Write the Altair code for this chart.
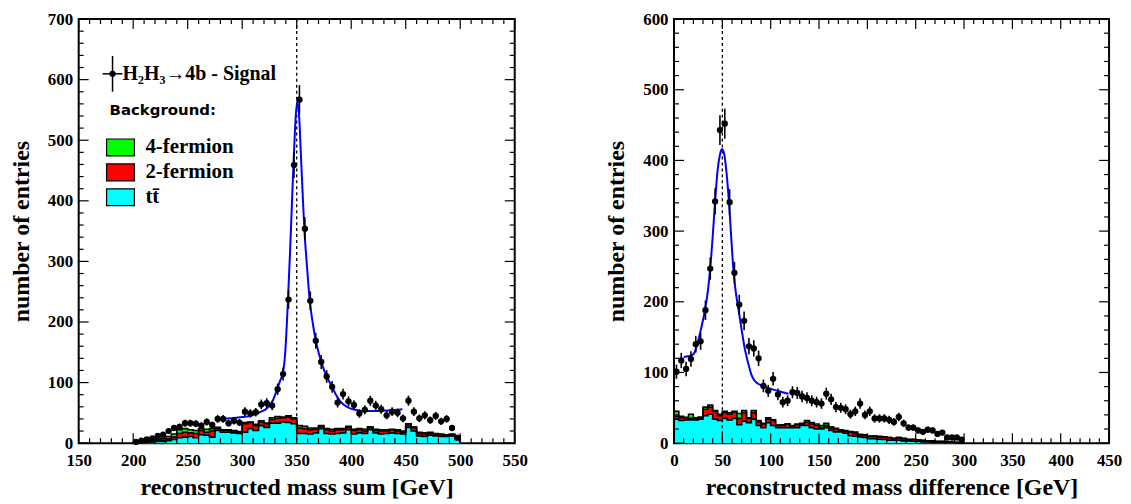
import math
import altair as alt
import pandas as pd

SERIF = "Liberation Serif"
BIN = 5.0
COMP = ["4-fermion", "2-fermion", "tt\u0304"]
COLORS = ["#00ff00", "#ff0000", "#00ffff"]

# ---------------- left panel: reconstructed mass sum ----------------
sum_bin_lo = list(range(200, 500, 5))
sum_centers = [b + 2.5 for b in sum_bin_lo]
sum_signal = [
    2, 4, 6, 8, 12, 14, 20, 25, 27, 33,
    33, 32, 29, 35, 30, 40, 40, 33, 37, 34,
    52, 49, 51, 64, 66, 62, 89, 114, 237, 459,
    567, 354, 235, 169, 134, 110, 93, 67, 81, 69,
    63, 49, 55, 70, 62, 56, 46, 52, 50, 41,
    70, 52, 41, 46, 38, 45, 36, 40, 25, 9]
sum_tt = [
    0.5, 1, 1.5, 2, 3, 3, 4, 6, 9, 10,
    11, 9, 14, 13, 10, 21, 18, 18, 17, 16,
    18, 24, 21, 29, 26, 33, 33, 35, 34, 32,
    16, 16, 15, 17, 24, 16, 15, 16, 17, 22,
    15, 17, 16, 22, 17, 15, 16, 17, 16, 15,
    26, 20, 12, 11, 13, 12, 11, 11, 12, 6]
sum_2f = [
    0, 0.5, 0.5, 1, 1, 2, 3, 4, 7, 8,
    6, 7, 7, 5, 10, 3, 3, 3, 3, 2,
    14, 10, 8, 6, 6, 6, 8, 7, 9, 8,
    9, 8, 7, 6, 3, 6, 5, 6, 5, 4,
    6, 5, 4, 3, 4, 5, 4, 5, 4, 3,
    4, 5, 4, 4, 3, 3, 3, 2, 2, 3]
sum_4f = [
    0.5, 0.5, 1, 1, 2, 3, 4, 5, 6, 6,
    5, 5, 3, 5, 4, 2, 1, 1, 1, 1,
    2, 1, 2, 2, 1, 3, 3, 1, 2, 2,
    4, 4, 3, 2, 2, 2, 3, 2, 2, 2,
    2, 2, 3, 2, 2, 2, 2, 1, 2, 2,
    2, 2, 2, 2, 2, 1, 1, 1, 1, 3]
sum_fit_x = [281, 290, 300, 308, 316, 323, 328, 332, 335, 337.5, 339.5, 342, 344,
             345.5, 347, 348.5, 350.3, 352, 354, 355.5, 357, 359.5, 362, 365, 367.5,
             370, 372.5, 377.5, 382.5, 386, 390, 395, 399, 404, 408.5, 415, 425, 435, 447]
sum_fit_y = [40, 41, 43, 45, 51, 58, 70, 89, 104, 117, 150, 237, 320,
             390, 459, 520, 563, 545, 470, 410, 354, 290, 235, 195, 169,
             150, 134, 110, 93, 80, 69, 61, 57.5, 55, 53, 53, 53, 54, 56]

# ---------------- right panel: reconstructed mass difference ----------------
diff_bin_lo = list(range(0, 300, 5))
diff_centers = [b + 2.5 for b in diff_bin_lo]
diff_signal = [
    101, 117, 105, 119, 140, 144, 188, 247, 342, 443,
    452, 341, 241, 196, 173, 137, 134, 120, 81, 74,
    91, 69, 58, 60, 72, 71, 66, 64, 60, 58,
    56, 70, 62, 51, 50, 48, 41, 45, 56, 40,
    45, 35, 35, 35, 33, 30, 37, 28, 22, 22,
    18, 16, 19, 18, 13, 15, 8, 8, 8, 5]
diff_tt = [
    34, 32, 33, 33, 33, 34, 39, 41, 34, 32,
    35, 33, 35, 26, 31, 29, 34, 25, 22, 29,
    25, 22, 22, 22, 22, 22, 25, 25, 22, 20,
    20, 22, 18, 16, 16, 14, 10.5, 9.7, 8.7, 8,
    6.4, 6.4, 5.5, 5.1, 4.1, 4.1, 4.1, 3.2, 3.2, 2.8,
    2.3, 1.8, 1.8, 1.4, 1.4, 1.4, 0.9, 0.9, 0.5, 0.3]
diff_2f = [
    4, 4, 3, 2, 2, 2, 9, 10, 11, 7,
    8, 8, 9, 9, 12, 6, 9, 5, 5, 5,
    7, 3, 3, 5, 1, 4, 2, 4.5, 5, 5,
    2, 3, 3, 4, 2, 2.5, 5, 3.6, 2.3, 3,
    3.3, 3.3, 3.2, 3.6, 3.7, 2.3, 3.7, 3.2, 1.9, 2.3,
    1.8, 1.9, 1, 1.4, 0.9, 0.9, 0.9, 0.5, 0.4, 0.2]
diff_4f = [
    7, 2, 0.5, 6, 1, 1, 3, 3, 1, 2,
    2, 2, 1, 7, 3, 1, 3, 2, 1, 2,
    1, 0.5, 1, 0.5, 2, 1, 1, 2.5, 2, 2,
    3, 3, 2, 1, 1, 1.5, 1, 2.3, 1.4, 1,
    0.5, 0.5, 1, 0.3, 0.3, 0.3, 0.3, 0.3, 0.4, 0.4,
    0.5, 0.3, 0.4, 0.4, 0.3, 0.3, 0.5, 0.3, 0.2, 0.1]
diff_fit_x = [10, 15, 18, 21, 25, 28, 32, 35, 37.5, 40, 42.5, 45, 47.5, 49.5, 52,
              54.5, 57, 59, 61.3, 63.5, 66, 70, 73.3, 76.7, 80, 83, 87, 92, 97,
              105, 112, 118.5]
diff_fit_y = [122, 123, 124, 128, 145, 162, 188, 215, 248, 292, 342, 385, 408, 416, 408,
              380, 338, 295, 248, 218, 195, 160, 133, 113, 97, 89, 84, 81, 78,
              75, 72, 70]

signal_label = "H\u2082H\u2083\u21924b - Signal"


def hist_frames(lo, tt, f2, f4):
    n = len(lo)
    edges = list(lo) + [lo[-1] + BIN]
    b1 = list(tt)
    b2 = [a + b for a, b in zip(tt, f2)]
    b3 = [a + c for a, c in zip(b2, f4)]
    rows = []
    for name, bot, top in ((COMP[2], [0] * n, b1), (COMP[1], b1, b2), (COMP[0], b2, b3)):
        for i in range(n + 1):
            j = min(i, n - 1)
            rows.append({"x": edges[i], "y0": bot[j], "y1": top[j], "comp": name})
    lrows = []
    for k, top in enumerate((b1, b2, b3)):
        seq = [(edges[0], 0)] + [(edges[i], top[min(i, n - 1)]) for i in range(n + 1)] + [(edges[n], 0)]
        for idx, (x, y) in enumerate(seq):
            lrows.append({"x": x, "y": y, "k": k, "i": idx})
    return pd.DataFrame(rows), pd.DataFrame(lrows)


def signal_frame(centers, vals):
    return pd.DataFrame({
        "x": centers, "val": vals,
        "lo": [v - math.sqrt(v) for v in vals],
        "hi": [v + math.sqrt(v) for v in vals],
        "xl": [c - 2.5 for c in centers],
        "xr": [c + 2.5 for c in centers],
    })


def panel(lo, tt, f2, f4, centers, vals, fx, fy, peak, xdom, ydom, xtitle,
          xmaj, xmin, ymaj, ymin, W, H, with_legend):
    xs = alt.Scale(domain=xdom, nice=False, zero=False)
    ys = alt.Scale(domain=ydom, nice=False)
    area_df, line_df = hist_frames(lo, tt, f2, f4)
    sig = signal_frame(centers, vals)
    fit = pd.DataFrame({"x": fx, "y": fy})

    xaxis = alt.Axis(title=xtitle, values=xmaj, format="d", ticks=False, domain=False, grid=False,
                     labelFont=SERIF, labelFontSize=17, labelFontWeight="bold", labelColor="black",
                     labelPadding=9, labelFlush=False, labelOverlap=False,
                     titleFont=SERIF, titleFontSize=24, titleFontWeight="bold", titleColor="black",
                     titlePadding=8)
    yaxis = alt.Axis(title="number of entries", values=ymaj, format="d", ticks=False, domain=False,
                     grid=False, labelFont=SERIF, labelFontSize=17, labelFontWeight="bold",
                     labelColor="black", labelPadding=6, labelOverlap=False,
                     titleFont=SERIF, titleFontSize=24, titleFontWeight="bold", titleColor="black",
                     titlePadding=14)

    def X(f):
        return alt.X(f, scale=xs, axis=xaxis)

    def Y(f, **kw):
        return alt.Y(f, scale=ys, axis=yaxis, **kw)

    if with_legend:
        legend = alt.Legend(
            title="Background:", orient="none", legendX=31, legendY=84,
            titleFont="DejaVu Sans", titleFontSize=15, titleFontWeight="bold", titleColor="black",
            titlePadding=19, labelFont=SERIF, labelFontSize=21, labelFontWeight="bold",
            labelColor="black", labelOffset=14,
            symbolType="M-1.4,-0.85H1.4V0.85H-1.4Z", symbolSize=400,
            symbolStrokeColor="black", symbolStrokeWidth=1.2, symbolOpacity=1,
            rowPadding=3, padding=0)
    else:
        legend = None

    layers = []
    layers.append(alt.Chart(area_df).mark_area(interpolate="step-after", opacity=1).encode(
        x=X("x:Q"), y=Y("y1:Q", stack=None), y2="y0:Q",
        color=alt.Color("comp:N", scale=alt.Scale(domain=COMP, range=COLORS), legend=legend),
    ))
    layers.append(alt.Chart(line_df).mark_line(interpolate="step-after", color="black",
                                               strokeWidth=1.6).encode(
        x=X("x:Q"), y=Y("y:Q"), detail="k:N", order="i:Q"))
    layers.append(alt.Chart(pd.DataFrame({"x": [peak]})).mark_rule(
        color="black", strokeWidth=1.3, strokeDash=[3, 3]).encode(
        x=X("x:Q"), y=alt.value(0), y2=alt.value(H)))
    layers.append(alt.Chart(fit).mark_line(interpolate="monotone", color="#0000ff",
                                           strokeWidth=2).encode(x=X("x:Q"), y=Y("y:Q")))
    layers.append(alt.Chart(sig).mark_rule(color="black", strokeWidth=1.6).encode(
        x=X("x:Q"), y=Y("lo:Q"), y2="hi:Q"))
    layers.append(alt.Chart(sig).mark_rule(color="black", strokeWidth=1.6).encode(
        x=X("xl:Q"), x2="xr:Q", y=Y("val:Q")))
    layers.append(alt.Chart(sig).mark_circle(color="black", size=40, opacity=1).encode(
        x=X("x:Q"), y=Y("val:Q")))

    for tvals, L in ((xmaj, 10), (xmin, 5)):
        base = alt.Chart(pd.DataFrame({"t": tvals})).mark_rule(color="black", strokeWidth=1.2)
        layers.append(base.encode(x=X("t:Q"), y=alt.value(H), y2=alt.value(H - L)))
        layers.append(base.encode(x=X("t:Q"), y=alt.value(0), y2=alt.value(L)))
    for tvals, L in ((ymaj, 10), (ymin, 5)):
        base = alt.Chart(pd.DataFrame({"t": tvals})).mark_rule(color="black", strokeWidth=1.2)
        layers.append(base.encode(y=Y("t:Q"), x=alt.value(0), x2=alt.value(L)))
        layers.append(base.encode(y=Y("t:Q"), x=alt.value(W), x2=alt.value(W - L)))

    if with_legend:
        lab = pd.DataFrame({"label": [signal_label]})
        layers.append(alt.Chart(lab).mark_rule(color="black", strokeWidth=1.5).encode(
            x=alt.value(34), y=alt.value(37), y2=alt.value(73)))
        layers.append(alt.Chart(lab).mark_rule(color="black", strokeWidth=1.5).encode(
            x=alt.value(24), x2=alt.value(44), y=alt.value(55)))
        layers.append(alt.Chart(lab).mark_circle(color="black", size=40, opacity=1).encode(
            x=alt.value(34), y=alt.value(55)))
        layers.append(alt.Chart(lab).mark_text(align="left", baseline="middle", font=SERIF,
                                               fontSize=20, fontWeight="bold", color="black").encode(
            x=alt.value(44), y=alt.value(55), text="label:N"))

    return alt.layer(*layers).properties(width=W, height=H)


H = 426
left = panel(sum_bin_lo, sum_tt, sum_2f, sum_4f, sum_centers, sum_signal, sum_fit_x, sum_fit_y,
             350, [150, 550], [0, 700], "reconstructed mass sum [GeV]",
             list(range(150, 551, 50)), [v for v in range(150, 551, 10) if v % 50],
             list(range(0, 701, 100)), [v for v in range(0, 701, 20) if v % 100],
             438, H, True)
right = panel(diff_bin_lo, diff_tt, diff_2f, diff_4f, diff_centers, diff_signal, diff_fit_x, diff_fit_y,
              50, [0, 450], [0, 600], "reconstructed mass difference [GeV]",
              list(range(0, 451, 50)), [v for v in range(0, 451, 10) if v % 50],
              list(range(0, 601, 100)), [v for v in range(0, 601, 20) if v % 100],
              437, H, False)

chart = alt.hconcat(left, right, spacing=75).resolve_scale(color="independent").properties(
    padding={"left": 0, "top": 0, "right": 0, "bottom": 0}
).configure_view(stroke="black", strokeWidth=2)

chart.save("out.html", embed_options={"renderer": "svg", "actions": False})
